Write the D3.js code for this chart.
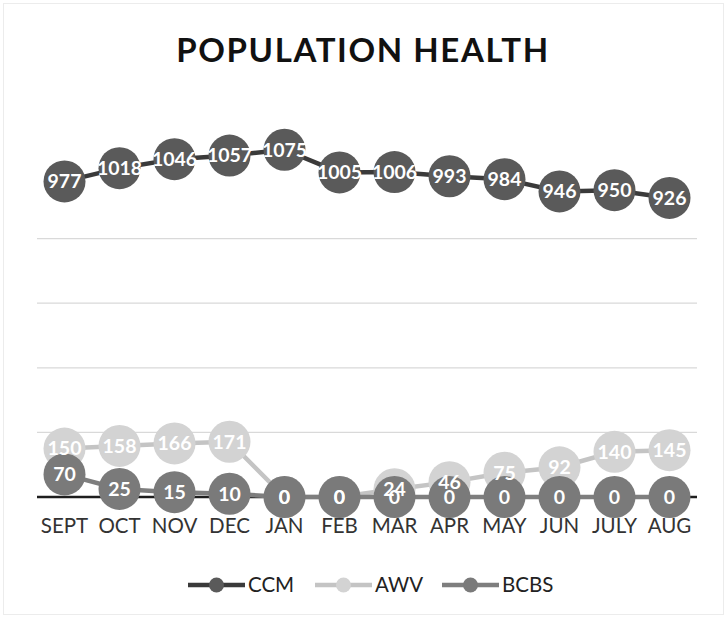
<!DOCTYPE html>
<meta charset="utf-8">
<style>
html, body {
    margin: 0;
    background: white;
}
svg {
    display: block;
    font-family: Lato, "Open Sans", sans-serif;
}
.grid line {
    stroke: #d9d9d9;
    stroke-width: 1.2;
}
.month {
    font-size: 20.5px;
    fill: #333;
}
.dlabel {
    font-size: 19.5px;
    font-weight: 700;
    fill: #fff;
    text-anchor: middle;
}
</style>
<body>
<script src="https://cdnjs.cloudflare.com/ajax/libs/d3/7.8.5/d3.min.js"></script>
<script>

var width = 727,
    height = 618;

var months = ["SEPT", "OCT", "NOV", "DEC", "JAN", "FEB", "MAR", "APR", "MAY", "JUN", "JULY", "AUG"];
var ccm = [977, 1018, 1046, 1057, 1075, 1005, 1006, 993, 984, 946, 950, 926];
var awv = [150, 158, 166, 171, 0, 0, 24, 46, 75, 92, 140, 145];
var bcbs = [70, 25, 15, 10, 0, 0, 0, 0, 0, 0, 0, 0];
var gridTicks = [200, 400, 600, 800];

var series = [
    {name: "CCM", values: ccm, line: "#3a3a3a", fill: "#5a5a5a"},
    {name: "AWV", values: awv, line: "#c4c4c4", fill: "#d3d3d3"},
    {name: "BCBS", values: bcbs, line: "#7e7e7e", fill: "#7a7a7a"}
];

var x = d3.scaleBand()
    .domain(months)
    .range([37, 697]);

var y = d3.scaleLinear()
    .domain([0, 1000])
    .range([497, 174]);

var cx = function(i) { return x(months[i]) + x.bandwidth() / 2; };

var svg = d3.select("body").append("svg")
    .attr("width", width)
    .attr("height", height);

svg.append("rect")
    .attr("x", 3.5).attr("y", 3.5)
    .attr("width", width - 7).attr("height", height - 7)
    .attr("fill", "none")
    .attr("stroke", "#ececec");

svg.append("text")
    .attr("x", 363)
    .attr("y", 62)
    .attr("text-anchor", "middle")
    .attr("font-size", 33)
    .attr("font-weight", 700)
    .attr("letter-spacing", 1.6)
    .attr("fill", "#111")
    .text("POPULATION HEALTH");

svg.append("g")
    .attr("class", "grid")
    .selectAll("line")
    .data(gridTicks)
    .enter().append("line")
    .attr("x1", 37).attr("x2", 697)
    .attr("y1", d => y(d)).attr("y2", d => y(d));

svg.append("line")
    .attr("x1", 37).attr("x2", 697)
    .attr("y1", y(0)).attr("y2", y(0))
    .attr("stroke", "#1e1e1e")
    .attr("stroke-width", 2.5);

var xAxis = svg.append("g")
    .attr("transform", "translate(0," + y(0) + ")")
    .call(d3.axisBottom(x).tickSize(0).tickPadding(21))
    .attr("font-family", null)
    .attr("font-size", null);
xAxis.select(".domain").remove();
xAxis.selectAll("text")
    .attr("class", "month");

var line = d3.line()
    .x((d, i) => cx(i))
    .y(d => y(d));

series.forEach(s => {
    svg.append("path")
        .datum(s.values)
        .attr("fill", "none")
        .attr("stroke", s.line)
        .attr("stroke-width", 4.5)
        .attr("d", line);
    svg.append("g")
        .selectAll("circle")
        .data(s.values)
        .enter().append("circle")
        .attr("cx", (d, i) => cx(i))
        .attr("cy", d => y(d))
        .attr("r", 21)
        .attr("fill", s.fill);
});

series.forEach(s => {
    svg.append("g")
        .selectAll("text")
        .data(s.values)
        .enter().append("text")
        .attr("class", "dlabel")
        .attr("x", (d, i) => cx(i))
        .attr("y", d => y(d))
        .attr("dy", "0.35em")
        .text(d => d);
});

// legend
var legend = svg.append("g")
    .selectAll("g")
    .data(series)
    .enter().append("g")
    .attr("transform", (d, i) => "translate(" + [188, 315, 442][i] + ",585)");

legend.append("line")
    .attr("x1", 0).attr("x2", 57)
    .attr("stroke", d => d.line)
    .attr("stroke-width", 4.5);
legend.append("circle")
    .attr("cx", 28.5)
    .attr("r", 7.5)
    .attr("fill", d => d.fill);
legend.append("text")
    .attr("x", 60)
    .attr("dy", "0.35em")
    .attr("font-size", 20.5)
    .attr("fill", "#222")
    .text(d => d.name);

</script>
